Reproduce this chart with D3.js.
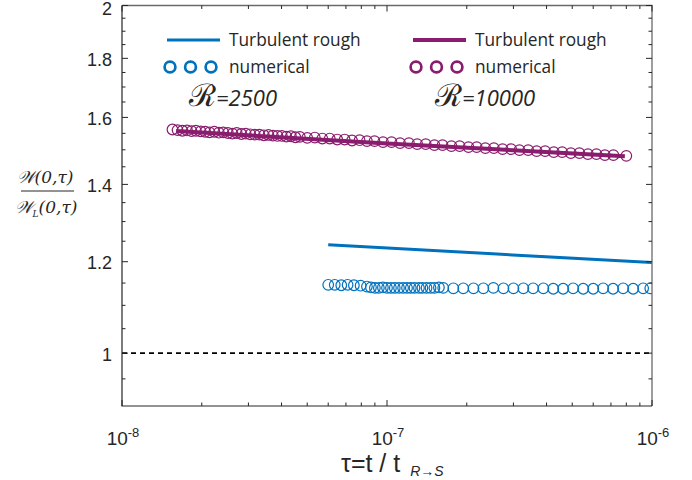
<!DOCTYPE html>
<html>
<head>
<meta charset="utf-8">
<script src="https://cdn.jsdelivr.net/npm/d3@7"></script>
<style>
  html, body { margin: 0; padding: 0; background: #fff; }
  svg { display: block; }
  text { fill: #262626; }
</style>
</head>
<body>
<svg id="chart" width="692" height="480"></svg>
<script>
// ---- data ----
// R = 10000 : numerical results
const tauNum10000 = [
  1.55e-8, 1.62e-8, 1.69e-8, 1.76e-8, 1.83e-8, 1.90e-8, 1.98e-8, 2.06e-8, 2.14e-8, 2.23e-8,
  2.32e-8, 2.41e-8, 2.51e-8, 2.61e-8, 2.71e-8, 2.82e-8, 2.93e-8, 3.05e-8, 3.17e-8, 3.30e-8,
  3.43e-8, 3.57e-8, 3.71e-8, 3.86e-8, 4.01e-8, 4.17e-8, 4.34e-8, 4.51e-8, 4.69e-8, 5.00e-8,
  5.34e-8, 5.70e-8, 6.08e-8, 6.49e-8, 6.92e-8, 7.38e-8, 7.88e-8, 8.40e-8, 8.97e-8, 9.66e-8,
  1.04e-7, 1.12e-7, 1.21e-7, 1.30e-7, 1.40e-7, 1.51e-7, 1.62e-7, 1.75e-7, 1.88e-7, 2.03e-7,
  2.18e-7, 2.35e-7, 2.53e-7, 2.73e-7, 2.94e-7, 3.16e-7, 3.41e-7, 3.67e-7, 3.95e-7, 4.26e-7,
  4.58e-7, 4.94e-7, 5.32e-7, 5.73e-7, 6.17e-7, 6.64e-7, 7.15e-7, 8.00e-7
];
const ratioNum10000 = [
  1.562, 1.560, 1.558, 1.559, 1.557, 1.558, 1.556, 1.555, 1.553, 1.555,
  1.552, 1.553, 1.551, 1.549, 1.551, 1.548, 1.549, 1.547, 1.546, 1.546,
  1.544, 1.545, 1.543, 1.542, 1.542, 1.540, 1.541, 1.538, 1.539, 1.536,
  1.537, 1.534, 1.534, 1.531, 1.531, 1.528, 1.529, 1.526, 1.526, 1.523,
  1.523, 1.520, 1.520, 1.517, 1.517, 1.514, 1.514, 1.511, 1.511, 1.508,
  1.508, 1.505, 1.505, 1.502, 1.502, 1.499, 1.499, 1.496, 1.496, 1.493,
  1.493, 1.490, 1.490, 1.487, 1.487, 1.484, 1.484, 1.482
];
// R = 10000 : turbulent rough estimate
const tauRough10000 = [1.6e-8, 1.0e-7, 7.9e-7];
const ratioRough10000 = [1.557, 1.519, 1.481];

// R = 2500 : numerical results
const tauNum2500 = [
  6.00e-8, 6.35e-8, 6.72e-8, 7.10e-8, 7.50e-8, 7.95e-8, 8.40e-8,
  8.70e-8, 9.00e-8, 9.32e-8, 9.65e-8, 1.00e-7, 1.035e-7, 1.07e-7, 1.11e-7, 1.15e-7,
  1.19e-7, 1.23e-7, 1.27e-7, 1.32e-7, 1.36e-7, 1.41e-7, 1.46e-7, 1.51e-7, 1.57e-7,
  1.63e-7, 1.78e-7, 1.94e-7, 2.12e-7, 2.31e-7, 2.52e-7, 2.75e-7, 3.00e-7, 3.27e-7,
  3.56e-7, 3.89e-7, 4.24e-7, 4.62e-7, 5.04e-7, 5.50e-7, 6.00e-7, 6.54e-7, 7.13e-7,
  7.78e-7, 8.49e-7, 9.26e-7, 9.85e-7
];
const ratioNum2500 = [
  1.146, 1.146, 1.145, 1.146, 1.145, 1.144, 1.142,
  1.140, 1.139, 1.139, 1.140, 1.139, 1.139, 1.139, 1.139, 1.139,
  1.139, 1.139, 1.139, 1.139, 1.139, 1.139, 1.139, 1.139, 1.140,
  1.139, 1.138, 1.138, 1.138, 1.138, 1.139, 1.138, 1.138, 1.138,
  1.138, 1.138, 1.137, 1.137, 1.138, 1.137, 1.137, 1.138, 1.137,
  1.138, 1.137, 1.138, 1.138
];
// R = 2500 : turbulent rough estimate
const tauRough2500 = [6.0e-8, 2.5e-7, 1.0e-6];
const ratioRough2500 = [1.241, 1.219, 1.198];

// axis ticks
const xMajorTicks = [1e-8, 1e-7, 1e-6];
const xTickExponents = ["-8", "-7", "-6"];
const yMajorTicks = [1, 1.2, 1.4, 1.6, 1.8, 2];
const yMinorTicks = [0.95, 1.05, 1.1, 1.15, 1.25, 1.3, 1.35, 1.45, 1.5, 1.55, 1.65, 1.7, 1.75, 1.85, 1.9, 1.95];
const xMinorTicks = [2e-8, 3e-8, 4e-8, 5e-8, 6e-8, 7e-8, 8e-8, 9e-8, 2e-7, 3e-7, 4e-7, 5e-7, 6e-7, 7e-7, 8e-7, 9e-7];

const blue = "#0072BD";
const purple = "#8A1C6E";

// ---- layout ----
const svg = d3.select("#chart");
const L = 122, R = 652, T = 5.5, B = 406;

const x = d3.scaleLog().domain([1e-8, 1e-6]).range([L, R]);
const y = d3.scaleLog().domain([0.9, 2]).range([B, T]);

const axisColor = "#262626";

// clip for plotted data
svg.append("defs").append("clipPath").attr("id", "plotClip")
  .append("rect").attr("x", L).attr("y", T).attr("width", R - L).attr("height", B - T);

// reference line at ratio 1
svg.append("line")
  .attr("x1", L).attr("x2", R).attr("y1", y(1)).attr("y2", y(1))
  .attr("stroke", "#000").attr("stroke-width", 1.6).attr("stroke-dasharray", "5,4");

const plot = svg.append("g").attr("clip-path", "url(#plotClip)");
const line = d3.line().x(d => x(d[0])).y(d => y(d[1]));

function drawSeries(taus, vals, color, width) {
  plot.append("path")
    .datum(d3.zip(taus, vals))
    .attr("d", line)
    .attr("fill", "none").attr("stroke", color).attr("stroke-width", width);
}
function drawCircles(taus, vals, color) {
  plot.append("g").selectAll("circle")
    .data(d3.zip(taus, vals)).join("circle")
    .attr("cx", d => x(d[0])).attr("cy", d => y(d[1])).attr("r", 5.3)
    .attr("fill", "none").attr("stroke", color).attr("stroke-width", 1.2);
}

drawCircles(tauNum10000, ratioNum10000, purple);
drawSeries(tauRough10000, ratioRough10000, purple, 4);
drawSeries(tauRough2500, ratioRough2500, blue, 3);
drawCircles(tauNum2500, ratioNum2500, blue);

// ---- axes box and ticks ----
const axes = svg.append("g");
axes.append("path")
  .attr("d", `M${L},${T}H${R}V${B}`)
  .attr("fill", "none").attr("stroke", "#6a6a6a").attr("stroke-width", 1.3);
axes.append("path")
  .attr("d", `M${L},${T}V${B}H${R}`)
  .attr("fill", "none").attr("stroke", axisColor).attr("stroke-width", 1.2);

function xTick(v, len) {
  axes.append("line").attr("x1", x(v)).attr("x2", x(v)).attr("y1", B).attr("y2", B - len)
    .attr("stroke", axisColor).attr("stroke-width", 1);
  axes.append("line").attr("x1", x(v)).attr("x2", x(v)).attr("y1", T).attr("y2", T + len)
    .attr("stroke", axisColor).attr("stroke-width", 1);
}
function yTick(v, len) {
  axes.append("line").attr("x1", L).attr("x2", L + len).attr("y1", y(v)).attr("y2", y(v))
    .attr("stroke", axisColor).attr("stroke-width", 1);
  axes.append("line").attr("x1", R).attr("x2", R - len).attr("y1", y(v)).attr("y2", y(v))
    .attr("stroke", axisColor).attr("stroke-width", 1);
}
xMajorTicks.forEach(v => xTick(v, 6));
xMinorTicks.forEach(v => xTick(v, 3.5));
yMajorTicks.forEach(v => yTick(v, 6));
yMinorTicks.forEach(v => yTick(v, 3.5));

// tick labels
const tickFont = "'Liberation Sans', Arial, sans-serif";
yMajorTicks.forEach(v => {
  svg.append("text").attr("x", L - 10).attr("y", Math.max(y(v) + 7.5, 14.5))
    .attr("text-anchor", "end").attr("font-family", tickFont).attr("font-size", 18)
    .text(d3.format("")(v));
});
xMajorTicks.forEach((v, i) => {
  const t = svg.append("text").attr("x", x(v) + 1).attr("y", 445)
    .attr("text-anchor", "middle").attr("font-family", tickFont).attr("font-size", 19);
  t.append("tspan").text("10");
  t.append("tspan").attr("dy", -8).attr("font-size", 13).text(xTickExponents[i]);
});

// x label
const xl = svg.append("text").attr("x", 341).attr("y", 472)
  .attr("font-family", tickFont).attr("font-size", 25);
xl.append("tspan").text("\u03C4=t / t");
xl.append("tspan").attr("dx", 10).attr("dy", 4).attr("font-size", 14).attr("font-style", "italic").text("R\u2192S");

// y label as a fraction
const yl = svg.append("g").attr("font-family", "'DejaVu Serif', serif").attr("font-style", "italic");
yl.append("text").attr("x", 45).attr("y", 183).attr("text-anchor", "middle").attr("font-size", 17)
  .text("\uD835\uDCB2(0,\u03C4)");
yl.append("line").attr("x1", 21).attr("x2", 74).attr("y1", 191).attr("y2", 191)
  .attr("stroke", axisColor).attr("stroke-width", 1.2);
const den = yl.append("text").attr("x", 46).attr("y", 213).attr("text-anchor", "middle").attr("font-size", 17);
den.append("tspan").text("\uD835\uDCB2");
den.append("tspan").attr("dy", 4).attr("font-size", 9).text("L");
den.append("tspan").attr("dy", -4).text("(0,\u03C4)");

// ---- legend ----
const legFont = "'Open Sans', 'Noto Sans', sans-serif";
function legendBlock(x0, color, lineW, rText) {
  svg.append("line").attr("x1", x0).attr("x2", x0 + 53).attr("y1", 40).attr("y2", 40)
    .attr("stroke", color).attr("stroke-width", lineW);
  svg.append("text").attr("x", x0 + 62).attr("y", 46).attr("font-family", legFont).attr("font-size", 17.3)
    .text("Turbulent rough");
  [0, 20.5, 41].forEach(dx => {
    svg.append("circle").attr("cx", x0 + 3 + dx).attr("cy", 67).attr("r", 5.4)
      .attr("fill", "none").attr("stroke", color).attr("stroke-width", 2.7);
  });
  svg.append("text").attr("x", x0 + 62).attr("y", 73).attr("font-family", legFont).attr("font-size", 17.3)
    .text("numerical");
  const r = svg.append("text").attr("x", x0 + 22).attr("y", 106);
  r.append("tspan").attr("font-family", "'DejaVu Serif', serif").attr("font-size", 31).text("\u211B");
  r.append("tspan").attr("font-family", legFont).attr("font-style", "italic").attr("font-size", 22)
    .text("=" + rText);
}
legendBlock(167, blue, 3, "2500");
legendBlock(413, purple, 4, "10000");
</script>
</body>
</html>
